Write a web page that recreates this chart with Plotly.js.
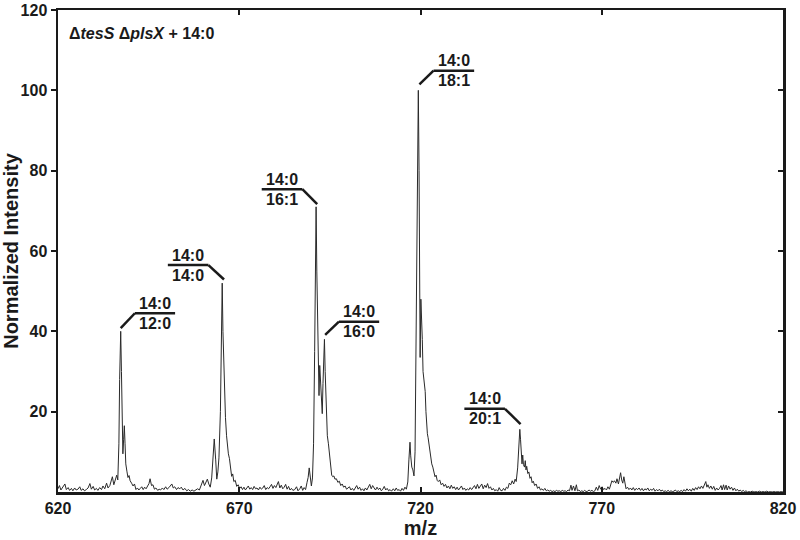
<!DOCTYPE html>
<html>
<head>
<meta charset="utf-8">
<script src="https://cdn.plot.ly/plotly-3.0.1.min.js"></script>
<style>
  html, body { margin: 0; padding: 0; background: white; }
  #plot { width: 800px; height: 540px; }
</style>
</head>
<body>
<div id="plot"></div>
<script>
// spectrum: [m/z, normalized intensity]
const spectrum = [
  [620.0,0.8],[620.4,1.6],[620.8,0.5],[621.3,1.2],[621.9,2.0],[622.3,0.6],[622.8,1.1],[623.2,0.4],
  [623.7,0.9],[624.1,0.3],[624.6,1.0],[625.0,0.5],[625.5,0.7],[626.0,1.3],[626.4,0.4],[626.9,0.8],
  [627.3,0.3],[627.8,0.6],[628.3,1.0],[628.8,2.1],[629.2,0.7],[629.7,1.4],[630.1,0.5],[630.6,0.9],
  [631.0,0.4],[631.5,1.1],[632.0,0.6],[632.4,1.5],[632.9,0.8],[633.4,2.2],[633.8,1.0],[634.3,1.6],
  [634.7,2.6],[635.0,3.8],[635.4,1.8],[635.8,2.9],[636.2,4.2],[636.5,3.0],[636.8,12],[637.0,28],
  [637.3,40],[637.5,30],[637.7,14],[637.9,9.5],[638.1,13],[638.3,16.5],[638.5,12],[638.7,7],
  [639.0,5.2],[639.3,3.6],[639.6,4.1],[639.9,2.8],[640.3,2.2],[640.7,1.5],[641.1,2.0],[641.5,0.6],
  [641.9,1.0],[642.3,0.5],[642.7,0.9],[643.1,1.3],[643.5,0.6],[643.9,1.2],[644.3,0.8],[644.7,1.5],
  [645.1,2.1],[645.4,3.3],[645.8,1.6],[646.2,1.8],[646.6,0.7],[647.0,1.0],[647.5,0.4],[647.9,0.7],
  [648.3,0.5],[648.8,1.0],[649.2,0.6],[649.7,1.3],[650.1,0.7],[650.6,1.1],[651.0,1.6],[651.4,2.0],
  [651.8,1.0],[652.2,1.3],[652.7,0.6],[653.1,1.1],[653.6,0.8],[654.0,1.2],[654.5,0.5],[655.0,0.9],
  [655.5,0.3],[656.0,0.6],[656.5,0.2],[657.0,0.5],[657.5,0.2],[658.0,0.4],[658.5,0.8],[659.0,0.5],
  [659.5,1.5],[660.0,2.9],[660.4,1.6],[660.8,2.3],[661.2,3.2],[661.6,2.0],[662.0,1.2],[662.4,3.5],
  [662.8,11],[663.1,13.2],[663.5,8],[663.8,3.2],[664.1,5],[664.4,8.5],[664.8,20],[665.1,42],
  [665.3,52],[665.5,40],[665.8,28],[666.0,23],[666.2,18.5],[666.5,14],[666.7,11.5],[667.0,9.5],
  [667.3,8.3],[667.5,6.8],[667.7,6.3],[667.9,3.9],[668.2,4.5],[668.5,2.6],[668.9,2.9],[669.3,1.4],
  [669.7,1.8],[670.1,0.9],[670.5,1.3],[670.9,0.6],[671.3,1.2],[671.7,0.5],[672.1,1.0],[672.5,1.5],
  [672.9,0.7],[673.3,1.1],[673.7,0.6],[674.1,1.4],[674.5,0.8],[674.9,1.0],[675.3,0.5],[675.7,1.2],
  [676.1,0.7],[676.5,1.0],[676.9,1.6],[677.3,0.6],[677.7,1.1],[678.1,0.8],[678.5,1.3],[678.9,1.9],
  [679.3,0.9],[679.7,1.6],[680.1,1.1],[680.5,1.8],[680.8,2.6],[681.2,1.0],[681.6,1.7],[682.0,0.8],
  [682.4,1.2],[682.8,1.9],[683.2,0.7],[683.6,1.4],[684.0,0.5],[684.4,0.9],[684.8,0.4],[685.3,0.6],
  [685.8,1.3],[686.2,0.3],[686.7,0.8],[687.1,1.5],[687.5,0.4],[687.9,1.1],[688.3,0.6],[688.7,2.4],
  [689.0,3.6],[689.3,6.0],[689.6,3.2],[689.9,1.5],[690.2,3.5],[690.5,12],[690.8,35],[691.0,58],
  [691.2,71],[691.4,55],[691.6,40],[691.8,30],[692.0,24],[692.2,31.5],[692.4,28],[692.6,24],
  [692.9,19.5],[693.1,27],[693.3,34],[693.5,38],[693.7,30],[693.9,24],[694.1,17],[694.3,14],
  [694.6,12],[694.9,9.5],[695.2,6],[695.5,4.2],[695.8,3.8],[696.1,4.0],[696.4,3.2],[696.8,3.3],
  [697.2,2.4],[697.6,2.7],[698.0,1.6],[698.4,2.0],[698.8,1.2],[699.2,1.5],[699.6,0.7],[700.0,1.0],
  [700.4,1.3],[700.8,0.5],[701.2,0.9],[701.6,0.4],[702.0,1.1],[702.4,1.6],[702.8,0.7],[703.2,1.2],
  [703.6,0.4],[704.0,0.8],[704.4,0.3],[704.8,1.0],[705.2,0.5],[705.6,1.4],[706.0,1.9],[706.4,0.8],
  [706.8,1.6],[707.2,1.0],[707.6,0.5],[708.0,1.2],[708.4,0.6],[708.8,1.0],[709.2,0.3],[709.6,0.7],
  [710.0,1.4],[710.4,0.5],[710.8,0.9],[711.2,0.3],[711.6,0.6],[712.0,0.2],[712.5,0.8],[712.9,0.3],
  [713.3,1.0],[713.7,0.4],[714.1,0.6],[714.5,0.2],[714.9,0.9],[715.3,0.4],[715.7,1.2],[716.1,0.7],
  [716.5,2.5],[716.8,8],[717.1,12.4],[717.3,9],[717.6,6.2],[717.9,5.5],[718.2,4.0],[718.5,10],
  [718.8,45],[719.1,85],[719.4,100],[719.6,80],[719.7,65],[719.9,33.5],[720.1,48],[720.3,44],
  [720.5,38],[720.7,30],[720.9,28],[721.1,27],[721.3,25],[721.5,20],[721.7,16],[721.9,14.5],
  [722.1,13.5],[722.3,12],[722.6,9.5],[722.8,8],[723.1,7],[723.4,6.2],[723.7,4.8],[724.0,3.8],
  [724.3,4.2],[724.6,2.9],[724.9,2.6],[725.3,3.0],[725.7,1.8],[726.1,2.2],[726.5,1.4],[726.9,1.9],
  [727.3,1.0],[727.7,1.5],[728.1,0.8],[728.5,1.7],[728.9,0.9],[729.3,1.3],[729.7,0.6],[730.1,1.2],
  [730.5,0.5],[730.9,0.9],[731.3,1.5],[731.7,0.6],[732.1,1.0],[732.5,0.4],[732.9,0.8],[733.3,0.5],
  [733.7,1.1],[734.1,0.6],[734.5,1.0],[734.9,1.6],[735.3,0.8],[735.7,1.9],[736.1,0.9],[736.5,1.4],
  [736.9,2.0],[737.3,0.8],[737.7,1.7],[738.1,1.1],[738.5,2.1],[738.9,0.9],[739.3,1.3],[739.7,0.5],
  [740.1,0.9],[740.5,0.3],[740.9,0.6],[741.3,0.2],[741.7,1.1],[742.1,0.4],[742.5,0.3],[742.9,0.9],
  [743.3,0.4],[743.7,1.2],[744.1,0.9],[744.5,2.2],[744.9,1.8],[745.3,2.8],[745.7,2.0],[746.1,3.2],
  [746.4,2.6],[746.8,6],[747.1,12],[747.4,15.6],[747.6,13],[747.8,8],[748.0,7],[748.2,9.2],
  [748.4,6.8],[748.7,6.2],[748.9,7.8],[749.1,5.5],[749.3,6.4],[749.6,4.6],[749.9,5.0],[750.2,3.4],
  [750.5,3.8],[750.8,2.3],[751.1,2.7],[751.5,1.6],[751.9,2.0],[752.3,0.9],[752.7,1.3],[753.1,0.5],
  [753.5,0.8],[753.9,0.4],[754.3,0.9],[754.7,0.3],[755.1,0.5],[755.5,0.2],[755.9,0.4],[756.3,0.1],
  [756.7,0.3],[757.1,0.1],[757.5,0.4],[757.9,0.2],[758.3,0.3],[758.7,0.1],[759.1,0.4],[759.5,0.2],
  [759.9,0.3],[760.3,0.1],[760.7,0.5],[761.1,0.3],[761.5,1.7],[761.8,0.4],[762.2,1.5],[762.6,0.3],
  [763.0,1.8],[763.3,0.3],[763.7,0.5],[764.1,0.1],[764.5,0.3],[764.9,0.1],[765.3,0.4],[765.7,0.1],
  [766.1,0.2],[766.5,0.5],[766.9,0.2],[767.3,0.4],[767.7,0.1],[768.1,0.3],[768.5,1.2],[768.9,0.4],
  [769.3,1.6],[769.7,0.7],[770.1,1.3],[770.5,0.6],[770.9,0.9],[771.3,0.5],[771.7,1.3],[772.1,0.7],
  [772.5,1.9],[772.8,2.8],[773.2,2.4],[773.5,2.8],[773.9,2.2],[774.2,3.3],[774.6,2.0],[774.9,3.6],
  [775.2,4.8],[775.5,3.0],[775.8,2.2],[776.1,3.8],[776.4,1.8],[776.7,0.8],[777.1,1.2],[777.5,0.6],
  [777.9,1.0],[778.3,0.5],[778.7,1.1],[779.1,0.4],[779.5,0.9],[779.9,0.6],[780.3,1.0],[780.7,0.4],
  [781.1,0.9],[781.5,0.3],[781.9,0.8],[782.3,0.5],[782.7,1.0],[783.1,0.3],[783.5,0.7],[783.9,0.4],
  [784.3,0.9],[784.7,0.2],[785.1,0.6],[785.5,0.3],[785.9,0.7],[786.3,0.2],[786.7,0.5],[787.1,0.1],
  [787.5,0.3],[787.9,0.1],[788.3,0.4],[788.7,0.1],[789.1,0.3],[789.5,0.1],[789.9,0.2],[790.3,0.5],
  [790.7,0.1],[791.1,0.3],[791.5,0.1],[791.9,0.4],[792.3,0.1],[792.7,0.6],[793.1,0.2],[793.5,0.8],
  [793.9,0.3],[794.3,0.7],[794.7,0.2],[795.1,0.9],[795.5,0.4],[795.9,1.1],[796.3,0.6],[796.7,1.3],
  [797.1,0.8],[797.5,1.5],[797.9,0.9],[798.3,1.7],[798.7,2.6],[799.0,1.2],[799.3,1.8],[799.7,0.9],
  [800.1,1.5],[800.5,0.7],[800.9,1.4],[801.3,0.4],[801.7,1.0],[802.1,0.5],[802.5,0.9],[802.9,1.6],
  [803.2,0.5],[803.6,1.8],[803.9,0.6],[804.3,1.7],[804.6,0.5],[805.0,1.5],[805.4,0.7],[805.8,1.2],
  [806.2,0.4],[806.6,1.0],[807.0,0.3],[807.4,0.7],[807.8,0.2],[808.2,0.5],[808.6,0.1],[809.0,0.4],
  [809.4,0.1],[809.8,0.3],[810.2,0.0],[810.6,0.1],[811.0,0.0],[811.5,0.2],[812.0,0.0],[812.5,0.1],
  [813.0,0.0],[813.5,0.2],[814.0,0.0],[814.5,0.1],[815.0,0.0],[815.5,0.2],[816.0,0.0],[816.5,0.1],
  [817.0,0.0],[817.5,0.1],[818.0,0.0],[818.5,0.1],[819.0,0.0],[819.5,0.1],[820.0,0.0]
];

const xTicks = [620, 670, 720, 770, 820];
const yTicks = [20, 40, 60, 80, 100, 120];

// peak labels (acyl chains)
const labelTop = ['14:0', '14:0', '14:0', '14:0', '14:0', '14:0'];
const labelBottom = ['12:0', '14:0', '16:1', '16:0', '18:1', '20:1'];

// where each label bar sits and where its leader touches the peak
const labelGeom = [
  { tipX: 637.3, tipY: 40.8, barL: 641.2, barR: 652.3, barY: 44.5 },
  { tipX: 665.8, tipY: 52.9, barL: 650.3, barR: 661.5, barY: 56.5 },
  { tipX: 691.5, tipY: 71.7, barL: 676.2, barR: 687.4, barY: 75.4 },
  { tipX: 693.7, tipY: 39.1, barL: 697.5, barR: 708.6, barY: 42.4 },
  { tipX: 719.7, tipY: 101.5, barL: 723.6, barR: 734.8, barY: 104.9 },
  { tipX: 747.6, tipY: 16.9, barL: 732.1, barR: 743.3, barY: 20.7 }
];

const ink = '#1a1a1a';
const fontFamily = 'Liberation Sans, Arial, Helvetica, sans-serif';

const trace = {
    x: spectrum.map(p => p[0]),
    y: spectrum.map(p => p[1]),
    type: 'scatter',
    mode: 'lines',
    line: { color: '#2a2a2a', width: 1 },
    hoverinfo: 'x+y'
};

// empty trace so the right-hand axis (inward ticks) gets drawn
const rightAxisTrace = { x: [], y: [], type: 'scatter', yaxis: 'y2', hoverinfo: 'skip' };

const shapes = [];
const annotations = [];
labelGeom.forEach((g, i) => {
    shapes.push({ type: 'line', xref: 'x', yref: 'y', x0: g.barL, x1: g.barR, y0: g.barY, y1: g.barY,
                  line: { color: ink, width: 2.5 } });
    const nearX = g.tipX < g.barL ? g.barL : g.barR;
    shapes.push({ type: 'line', xref: 'x', yref: 'y', x0: g.tipX, y0: g.tipY, x1: nearX, y1: g.barY,
                  line: { color: ink, width: 2.5 } });
    const cx = (g.barL + g.barR) / 2;
    annotations.push({ x: cx, y: g.barY, xref: 'x', yref: 'y', text: labelTop[i], showarrow: false,
                       yanchor: 'middle', yshift: 10, font: { size: 16, weight: 700, color: ink } });
    annotations.push({ x: cx, y: g.barY, xref: 'x', yref: 'y', text: labelBottom[i], showarrow: false,
                       yanchor: 'middle', yshift: -10, font: { size: 16, weight: 700, color: ink } });
});

annotations.push({
    xref: 'paper', yref: 'paper', x: 0.013, y: 0.952, xanchor: 'left', yanchor: 'middle',
    text: '\u0394<i>tesS</i> \u0394<i>plsX</i> + 14:0', showarrow: false,
    font: { size: 16, weight: 700, color: ink }
});

const layout = {
    width: 800,
    height: 540,
    margin: { l: 58, r: 17, t: 10, b: 48 },
    paper_bgcolor: 'white',
    plot_bgcolor: 'white',
    showlegend: false,
    font: { family: fontFamily, color: ink },
    xaxis: {
        range: [620, 820],
        tickvals: xTicks,
        ticks: 'inside',
        ticklen: 5,
        tickwidth: 2,
        tickcolor: ink,
        showline: true,
        linewidth: 2.5,
        linecolor: ink,
        mirror: 'ticks',
        showgrid: false,
        zeroline: false,
        tickfont: { size: 16, weight: 700 },
        title: { text: 'm/z', font: { size: 20, weight: 700 }, standoff: 4 }
    },
    yaxis: {
        range: [0, 120],
        tickvals: yTicks,
        ticks: 'outside',
        ticklen: 5,
        tickwidth: 2,
        tickcolor: ink,
        showline: true,
        linewidth: 2.5,
        linecolor: ink,
        mirror: true,
        showgrid: false,
        zeroline: false,
        tickfont: { size: 16, weight: 700 },
        title: { text: 'Normalized Intensity', font: { size: 20, weight: 700 }, standoff: 6 }
    },
    yaxis2: {
        overlaying: 'y',
        side: 'right',
        range: [0, 120],
        tickvals: yTicks,
        ticks: 'inside',
        ticklen: 5,
        tickwidth: 2,
        tickcolor: ink,
        showticklabels: false,
        showline: false,
        showgrid: false,
        zeroline: false
    },
    shapes: shapes,
    annotations: annotations
};

Plotly.newPlot('plot', [trace, rightAxisTrace], layout, { displayModeBar: false, staticPlot: true });
</script>
</body>
</html>
